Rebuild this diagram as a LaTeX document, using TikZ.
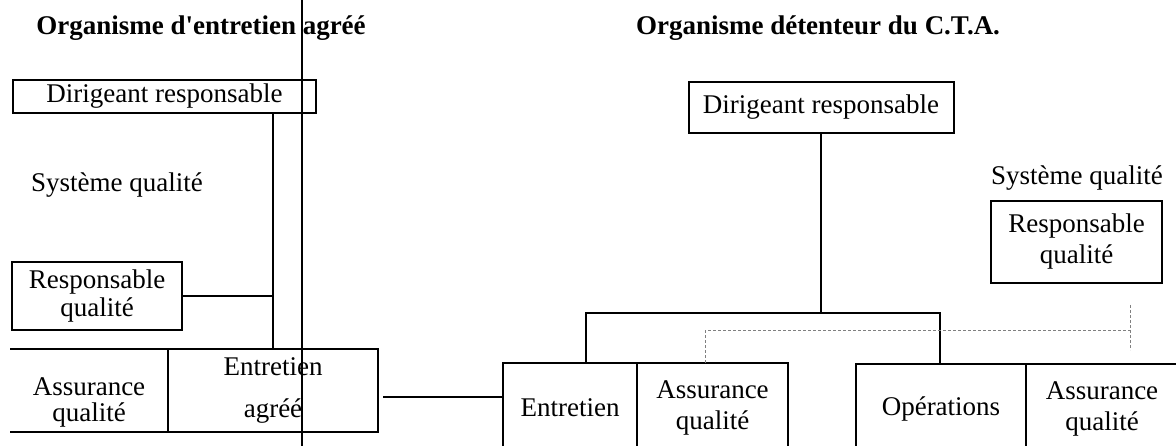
\documentclass[tikz,border=0pt]{standalone}
\usepackage{fontspec}
\setmainfont{Liberation Serif}
\usetikzlibrary{positioning}

\begin{document}
\begin{tikzpicture}[x=1pt, y=-1pt, font=\fontsize{27}{31}\selectfont]

\tikzstyle{line} = [line width=2pt]
\tikzset{box/.style = {rectangle, draw, line width=2pt, align=center, inner sep=0pt, outer sep=0pt}, }
\tikzset{cell/.style = {box, minimum height=89pt}, }
\tikzset{title/.style = {font=\fontsize{27}{31}\selectfont\bfseries} }
\tikzset{qlink/.style = {densely dashed, gray, line width=1pt} }

\clip (0,0) rectangle (1176,446);

\node[title] (TL) at (201,28) {Organisme d\textquotesingle entretien agréé};
\node[box, minimum width=303pt, minimum height=33pt] (DL) at (164.5,96.5) {Dirigeant responsable};
\node (SL) at (117,185) {Système qualité};
\node[box, minimum width=170pt, minimum height=68pt] (RQL) at (97,296) {Responsable\\[-3pt]qualité};
\node[box, minimum width=210pt, minimum height=83pt] (EL) at (273,390.5) {Entretien\\[11pt]agréé};
\node[align=center] (AL) at (89,402) {Assurance\\[-5pt]qualité};

\node[title] (TR) at (818,28) {Organisme détenteur du C.T.A.};
\node[box, minimum width=265pt, minimum height=51pt] (DR) at (821,107.5) {Dirigeant responsable};
\node (SR) at (1077,178) {Système qualité};
\node[box, minimum width=171pt, minimum height=82pt] (RQR) at (1076.5,242) {Responsable\\qualité};
\node[cell, minimum width=134pt, anchor=north west] (ER) at (503,363) {Entretien};
\node[cell, minimum width=151pt, right=0pt of ER] (AR1) {Assurance\\qualité};
\node[cell, minimum width=170pt, anchor=north west] (OR) at (856,364) {Opérations};
\node[cell, minimum width=152pt, right=0pt of OR] (AR2) {Assurance\\qualité};

\coordinate (V1) at (302,0);
\coordinate (V2) at (302,446);
\coordinate (L1) at (10,0);
\coordinate (B1) at (586,313);
\coordinate (B2) at (940,313);
\coordinate (C1) at (383,397);
\coordinate (Q1) at (705,331);
\coordinate (Q2) at (1130,331);
\coordinate (Q3) at (1130,305);
\coordinate (Q4) at (1130,350);

\draw[line] (V1) -- (V2);
\draw[line] (EL.north |- DL.south) -- (EL.north);
\draw[line] (RQL.east) -- (RQL.east -| EL.north);
\draw[line] (EL.north west) -- (EL.north west -| L1) (EL.south west) -- (EL.south west -| L1);
\draw[line] (C1) -- (C1 -| ER.west);
\draw[line] (DR.south) -- (DR.south |- B1);
\draw[line] (B1 |- ER.north) -- (B1) -- (B2) -- (B2 |- OR.north);
\draw[qlink] (Q1 |- AR1.north) -- (Q1) -- (Q2);
\draw[qlink] (Q3) -- (Q4);
\end{tikzpicture}
\end{document}
